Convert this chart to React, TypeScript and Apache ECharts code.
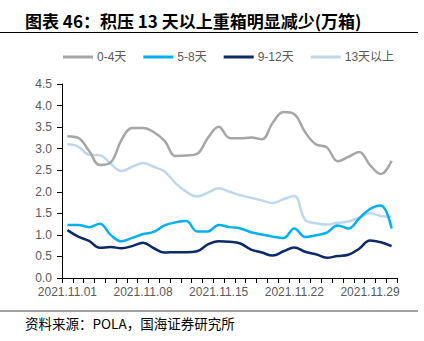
import React, { useEffect, useRef } from "react";
import * as echarts from "echarts";

const categories: string[] = [
  "2021.11.01","2021.11.02","2021.11.03","2021.11.04","2021.11.05","2021.11.06","2021.11.07",
  "2021.11.08","2021.11.09","2021.11.10","2021.11.11","2021.11.12","2021.11.13","2021.11.14",
  "2021.11.15","2021.11.16","2021.11.17","2021.11.18","2021.11.19","2021.11.20","2021.11.21",
  "2021.11.22","2021.11.23","2021.11.24","2021.11.25","2021.11.26","2021.11.27","2021.11.28",
  "2021.11.29","2021.11.30","2021.12.01",
];

const days0to4: number[] = [
  3.29, 3.25, 2.95, 2.62, 2.68, 3.2, 3.48, 3.48, 3.38, 3.18, 2.83, 2.84, 2.88, 3.25, 3.51,
  3.25, 3.24, 3.26, 3.22, 3.6, 3.85, 3.8, 3.38, 3.1, 3.03, 2.71, 2.81, 2.92, 2.62, 2.41, 2.72,
];
const days5to8: number[] = [
  1.23, 1.23, 1.18, 1.26, 1.0, 0.85, 0.93, 1.02, 1.07, 1.22, 1.29, 1.32, 1.08, 1.08, 1.23,
  1.18, 1.15, 1.06, 1.01, 0.96, 0.93, 1.15, 0.95, 0.99, 1.05, 1.22, 1.15, 1.38, 1.6, 1.68, 1.15,
];
const days9to12: number[] = [
  1.11, 0.96, 0.86, 0.7, 0.72, 0.69, 0.74, 0.82, 0.69, 0.59, 0.6, 0.6, 0.62, 0.78, 0.85,
  0.84, 0.8, 0.66, 0.59, 0.52, 0.62, 0.71, 0.61, 0.55, 0.47, 0.51, 0.54, 0.68, 0.87, 0.83, 0.74,
];
const days13plus: number[] = [
  3.1, 3.05, 2.86, 2.85, 2.65, 2.48, 2.58, 2.67, 2.58, 2.47, 2.2, 2.0, 1.89, 1.98, 2.08,
  2.0, 1.92, 1.86, 1.8, 1.74, 1.83, 1.9, 1.35, 1.27, 1.24, 1.28, 1.31, 1.4, 1.5, 1.44, 1.42,
];

const seriesNames: string[] = ["0-4天", "5-8天", "9-12天", "13天以上"];
const seriesColors: string[] = ["#A6A6A6", "#00B0F0", "#0C2A66", "#BDD7EE"];
const seriesData: number[][] = [days0to4, days5to8, days9to12, days13plus];

const titleText = "图表 46：积压 13 天以上重箱明显减少(万箱)";
const sourceText = "资料来源：POLA，国海证券研究所";

export default function App() {
  const ref = useRef<HTMLDivElement>(null);
  useEffect(() => {
    if (!ref.current) return;
    const chart = echarts.init(ref.current, null, { renderer: "svg" });
    const font = "'Liberation Sans', 'Noto Sans CJK SC', sans-serif";
    chart.setOption({
      animation: false,
      backgroundColor: "#ffffff",
      textStyle: { fontFamily: font },
      grid: { left: 62, right: 27, top: 84, bottom: 63 },
      legend: {
        left: 58,
        top: 46,
        itemWidth: 30,
        itemHeight: 3,
        itemGap: 17,
        icon: "rect",
        textStyle: { color: "#595959", fontSize: 12, fontFamily: font, padding: [0, 0, 0, -1] },
        data: seriesNames,
      },
      xAxis: {
        type: "category",
        data: categories,
        boundaryGap: true,
        axisLine: { lineStyle: { color: "#000000", width: 1 } },
        axisTick: { show: true, interval: 0, length: 5, lineStyle: { color: "#000000" } },
        axisLabel: { interval: 6, color: "#595959", fontSize: 12, margin: 8, fontFamily: font },
        splitLine: { show: false },
      },
      yAxis: {
        type: "value",
        min: 0,
        max: 4.5,
        interval: 0.5,
        axisLine: { show: true, lineStyle: { color: "#000000", width: 1 } },
        axisTick: { show: true, length: 5, inside: false, lineStyle: { color: "#000000" } },
        axisLabel: {
          color: "#595959",
          fontSize: 12,
          margin: 10,
          fontFamily: font,
          formatter: (v: number) => v.toFixed(1),
        },
        splitLine: { show: false },
      },
      series: seriesNames.map((name, i) => ({
        name,
        type: "line",
        data: seriesData[i],
        smooth: 0.4,
        symbol: "none",
        lineStyle: { color: seriesColors[i], width: 2.5 },
        itemStyle: { color: seriesColors[i] },
        z: i === 3 ? 1 : 2,
      })),
      graphic: [
        {
          type: "text",
          left: 25,
          top: 12,
          style: {
            text: titleText,
            font: "bold 17px 'Noto Sans CJK SC', sans-serif",
            fill: "#000000",
          },
        },
        {
          type: "line",
          shape: { x1: 0, y1: 32.5, x2: 418, y2: 32.5 },
          style: { stroke: "#000000", lineWidth: 1 },
        },
        {
          type: "line",
          shape: { x1: 0, y1: 311, x2: 418, y2: 311 },
          style: { stroke: "#404040", lineWidth: 1 },
        },
        {
          type: "text",
          left: 25,
          top: 316,
          style: {
            text: sourceText,
            font: "13.5px 'Noto Sans CJK SC', sans-serif",
            fill: "#000000",
          },
        },
      ],
    });
    return () => chart.dispose();
  }, []);
  return <div ref={ref} style={{ width: 424, height: 341, position: "absolute", left: 0, top: 0 }} />;
}
